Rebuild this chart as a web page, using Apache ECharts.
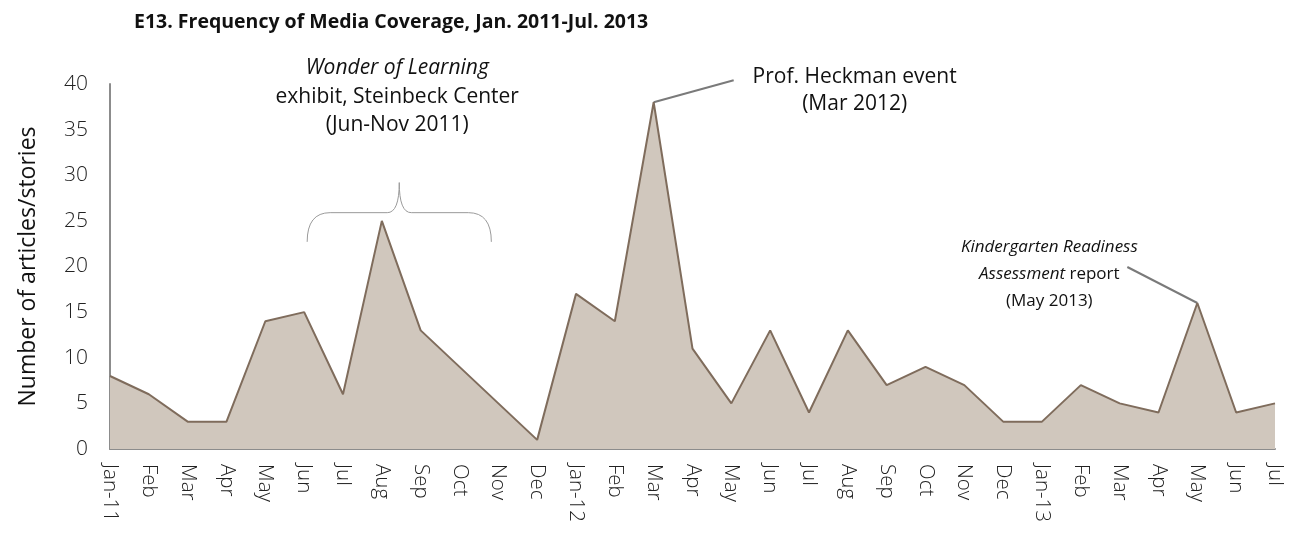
<!DOCTYPE html>
<html><head><meta charset="utf-8">
<script src="https://cdn.jsdelivr.net/npm/echarts@6/dist/echarts.min.js"></script>
<style>html,body{margin:0;padding:0;background:#fff}#c{width:1291px;height:533px}</style>
</head><body><div id="c"></div>
<script>
const categories = ['Jan-11','Feb','Mar','Apr','May','Jun','Jul','Aug','Sep','Oct','Nov','Dec',
  'Jan-12','Feb','Mar','Apr','May','Jun','Jul','Aug','Sep','Oct','Nov','Dec',
  'Jan-13','Feb','Mar','Apr','May','Jun','Jul'];
const articles = [8,6,3,3,14,15,6,25,13,9,5,1,17,14,38,11,5,13,4,13,7,9,7,3,3,7,5,4,16,4,5];
const yTicks = [0,5,10,15,20,25,30,35,40];
const titleText = 'E13. Frequency of Media Coverage, Jan. 2011-Jul. 2013';
const yAxisName = 'Number of articles/stories';

const FONT = '"Open Sans", "Noto Sans", sans-serif';
const chart = echarts.init(document.getElementById('c'), null, {renderer:'canvas'});
chart.setOption({
  animation:false,
  title:{text:titleText,left:129,top:7,textStyle:{fontFamily:FONT,fontWeight:'bold',fontSize:19.5,color:'#111'}},
  grid:{left:110,right:16,top:84,bottom:84,containLabel:false},
  xAxis:{type:'category',data:categories,boundaryGap:false,
    axisLine:{lineStyle:{color:'#8c8c8c',width:2}},axisTick:{show:false},
    axisLabel:{rotate:-90,margin:15,interval:0,fontFamily:FONT,fontWeight:300,fontSize:20.5,color:'#222'}},
  yAxis:{type:'value',min:0,max:40,interval:5,
    name:yAxisName,nameLocation:'middle',nameGap:70,nameTextStyle:{fontFamily:FONT,fontSize:23,color:'#111'},
    axisLine:{show:true,lineStyle:{color:'#8c8c8c',width:2}},axisTick:{show:false},splitLine:{show:false},
    axisLabel:{margin:22,fontFamily:FONT,fontWeight:300,fontSize:21,color:'#222',
      formatter:v=>yTicks.includes(v)?String(v):''}},
  series:[{type:'line',data:articles,symbol:'none',
    lineStyle:{color:'#7f6c5c',width:2},
    areaStyle:{color:'#d0c7bd',opacity:1}}]
});

function px(i,v){return chart.convertToPixel({xAxisIndex:0,yAxisIndex:0},[i,v]);}
const pHeck = px(14, articles[14]);
const pKind = px(28, articles[28]);
const bL = px(5,22.7), bR = px(10,22.7);
const xL = bL[0]+3, xR = bR[0]-7;
const xc = (xL+xR)/2;
const yEnd = bL[1], yMid = px(0,25.9)[1], yTip = px(0,29.2)[1];
const textCol = '#111';
const braceStyle = {stroke:'#9a9a9a',lineWidth:1,fill:null};
const fsBig = 21, fsSmall = 17;
chart.setOption({graphic:[
  {type:'bezierCurve',shape:{x1:xL,y1:yEnd,cpx1:xL,cpy1:yMid,x2:xL+23,y2:yMid},style:braceStyle},
  {type:'line',shape:{x1:xL+23,y1:yMid,x2:xc-12,y2:yMid},style:braceStyle},
  {type:'bezierCurve',shape:{x1:xc-12,y1:yMid,cpx1:xc,cpy1:yMid,x2:xc,y2:yTip},style:braceStyle},
  {type:'bezierCurve',shape:{x1:xc,y1:yTip,cpx1:xc,cpy1:yMid,x2:xc+12,y2:yMid},style:braceStyle},
  {type:'line',shape:{x1:xc+12,y1:yMid,x2:xR-23,y2:yMid},style:braceStyle},
  {type:'bezierCurve',shape:{x1:xR-23,y1:yMid,cpx1:xR,cpy1:yMid,x2:xR,y2:yEnd},style:braceStyle},
  {type:'text',x:xc-2,y:54,style:{text:'{i|Wonder of Learning}\nexhibit, Steinbeck Center\n(Jun-Nov 2011)',
    align:'center',verticalAlign:'top',fontFamily:FONT,fontSize:fsBig,lineHeight:28.5,fill:textCol,
    rich:{i:{fontStyle:'italic',fontFamily:FONT,fontSize:fsBig,lineHeight:28.5}}}},
  {type:'line',shape:{x1:pHeck[0],y1:pHeck[1],x2:pHeck[0]+80,y2:pHeck[1]-22},style:{stroke:'#7a7a7a',lineWidth:2}},
  {type:'text',x:pHeck[0]+201,y:64,style:{text:'Prof. Heckman event\n(Mar 2012)',align:'center',verticalAlign:'top',
    fontFamily:FONT,fontSize:fsBig,lineHeight:27,fill:textCol}},
  {type:'line',shape:{x1:pKind[0],y1:pKind[1],x2:pKind[0]-70,y2:pKind[1]-36},style:{stroke:'#7a7a7a',lineWidth:2}},
  {type:'text',x:pKind[0]-148,y:234,style:{text:'{i|Kindergarten Readiness}\n{i|Assessment} report\n(May 2013)',
    align:'center',verticalAlign:'top',fontFamily:FONT,fontSize:fsSmall,lineHeight:27,fill:textCol,
    rich:{i:{fontStyle:'italic',fontFamily:FONT,fontSize:fsSmall,lineHeight:27}}}}
]});
</script></body></html>
